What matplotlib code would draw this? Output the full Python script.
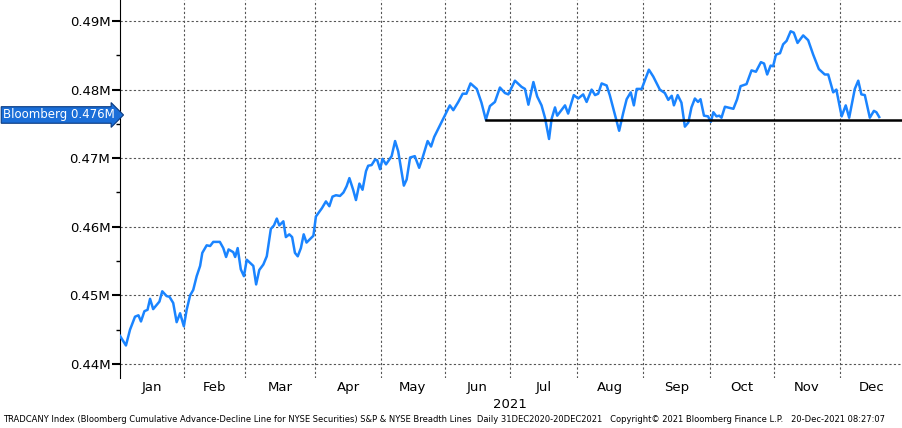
import matplotlib
matplotlib.use("Agg")
import matplotlib.pyplot as plt
from matplotlib.ticker import FuncFormatter, MultipleLocator

# trading-day index since 31 Dec 2020, values in thousands
days = [0,1.9,3.2,4.8,5.9,6.7,7.8,8.8,9.6,10.6,12.6,13.5,14.9,15.8,17.0,18.1,19.2,20.4,21.3,22.4,
        23.4,24.5,25.6,26.3,27.7,28.8,29.8,31.9,33.0,33.9,34.7,36.2,36.8,37.6,38.6,39.6,40.5,42.6,43.5,44.5,
        45.8,46.9,48.2,49.2,50.1,50.9,52.2,53.0,54.1,55.0,55.9,56.8,57.8,58.7,59.6,61.8,62.6,64.5,65.8,66.9,
        67.9,69.0,70.3,71.4,72.4,73.3,74.5,75.4,76.5,77.5,78.6,79.3,80.4,81.5,82.2,83.1,83.9,85.0,86.8,87.9,
        88.9,90.7,91.6,92.7,94.2,95.6,96.7,98.3,99.4,100.4,105.4,106.5,108.1,109.5,110.7,112.0,114.0,115.5,116.9,118.2,
        119.8,121.4,123.0,124.1,126.2,128.3,129.4,130.5,132.1,133.3,134.7,135.8,137.1,137.9,139.0,139.7,142.2,143.2,145.0,146.4,
        148.0,149.1,150.7,151.8,152.8,153.9,155.5,156.5,158.1,159.5,160.8,161.9,163.2,164.2,165.1,166.7,169.0,170.4,172.5,174.1,
        175.2,176.3,177.0,178.2,179.4,180.5,181.6,182.6,183.7,184.7,185.5,186.6,187.9,188.8,189.6,190.6,191.5,192.2,193.3,196.0,
        197.2,198.3,200.2,201.8,203.2,204.8,205.8,206.8,207.9,208.7,209.6,210.9,211.9,213.0,214.3,215.3,216.5,218.3,219.9,221.5,
        223.3,225.2,226.3,227.9,228.9,230.6,231.9,233.0,234.8,235.9,236.9,238.0,239.6,240.9,241.7,242.6]
values_k = [444.1,442.7,445.0,446.9,447.1,446.2,447.7,447.9,449.5,448.0,449.1,450.6,449.9,449.8,448.9,446.1,447.4,445.5,447.9,450.0,
        450.8,452.8,454.3,456.2,457.3,457.2,457.8,457.8,456.9,455.6,456.7,456.3,455.6,456.9,453.8,452.8,455.2,454.3,451.6,453.7,
        454.5,455.7,459.7,460.2,461.2,460.2,460.8,458.5,458.9,458.5,456.2,455.7,456.9,458.9,457.7,458.7,461.5,462.7,463.7,463.0,
        464.4,464.6,464.5,465.0,465.9,467.1,465.4,463.9,466.3,465.4,468.1,468.9,469.0,469.8,469.7,468.4,469.9,469.1,470.3,472.5,
        471.0,466.0,466.9,470.1,470.3,468.6,470.1,472.5,471.7,473.1,477.7,477.0,478.2,479.4,479.4,480.9,480.1,478.1,475.6,477.6,
        478.2,480.3,479.5,479.3,481.3,480.4,480.1,477.8,481.1,479.0,477.7,475.9,472.8,475.7,477.4,476.2,477.7,476.5,479.2,478.7,
        479.3,478.2,480.0,479.2,479.4,480.9,480.6,479.2,476.4,474.0,476.6,478.6,479.6,477.7,480.1,480.1,482.9,481.9,480.0,479.5,
        478.5,479.1,477.7,479.2,478.1,474.6,475.2,477.4,478.7,478.2,478.6,476.2,476.1,475.3,476.7,476.1,476.2,475.9,477.5,477.2,
        478.6,480.5,480.8,482.8,482.6,484.0,483.8,482.2,483.5,483.4,485.1,485.3,486.6,487.1,488.5,488.3,486.8,487.9,487.2,485.1,
        483.0,482.2,482.2,479.6,480.0,476.1,477.7,475.9,480.1,481.3,479.3,479.2,475.9,476.9,476.7,476.0]
values = [v / 1e3 for v in values_k]  # in millions

month_starts = [0, 20.4, 39.9, 62.3, 83.4, 103.8, 124.6, 146, 167, 188.5, 209, 230, 250.2]
month_labels = ["Jan","Feb","Mar","Apr","May","Jun","Jul","Aug","Sep","Oct","Nov","Dec"]
support_level = 0.4756
support_start = 116.9
last_label = "Bloomberg 0.476M"

fig = plt.figure(figsize=(9.03, 4.28), dpi=100)
ax = fig.add_axes([120/903, 50/428, 783/903, 378/428])
ax.set_xlim(0, 250.2)
ax.set_ylim(0.43796, 0.49306)

ax.plot(days, values, color="#1a84ff", lw=1.8, zorder=3)
ax.plot([support_start, 250.2], [support_level, support_level], color="black", lw=1.8, zorder=4)

for s in ["top", "right", "bottom"]:
    ax.spines[s].set_visible(False)
ax.spines["left"].set_color("black")

ax.yaxis.set_major_locator(MultipleLocator(0.01))
ax.yaxis.set_minor_locator(MultipleLocator(0.005))
ax.yaxis.set_major_formatter(FuncFormatter(lambda v, p: f"{v:.2f}M"))
ax.tick_params(axis="y", which="major", length=6, width=1.5, labelsize=9.5, pad=1, colors="black")
ax.tick_params(axis="y", which="minor", length=3, width=1)
ax.grid(axis="y", which="major", color="#555555", ls=(0, (2, 2)), lw=0.8)

ax.set_xticks(month_starts[1:-1])
ax.set_xticklabels([])
ax.tick_params(axis="x", length=0)
for x in month_starts[1:-1]:
    ax.axvline(x, color="#555555", ls=(0, (2, 2)), lw=0.8, zorder=1)
for i, lab in enumerate(month_labels):
    c = (month_starts[i] + month_starts[i + 1]) / 2
    ax.text(c, -0.025, lab, transform=ax.get_xaxis_transform(), ha="center", va="center", fontsize=9.5)
ax.text(month_starts[6], -0.07, "2021", transform=ax.get_xaxis_transform(), ha="center", va="center", fontsize=9.5)

ax.annotate(last_label, xy=(3/903, 0.4763), xycoords=("figure fraction", "data"),
            ha="left", va="center", fontsize=8.5, color="white",
            bbox=dict(boxstyle="rarrow,pad=0.15", fc="#1a6ed8", ec="#0a3a80", lw=0.8))

fig.text(3/903, 1 - 420/428,
         "TRADCANY Index (Bloomberg Cumulative Advance-Decline Line for NYSE Securities) S&P & NYSE Breadth Lines  Daily 31DEC2020-20DEC2021   Copyright\u00a9 2021 Bloomberg Finance L.P.   20-Dec-2021 08:27:07",
         fontsize=6.0, va="center", ha="left")

fig.savefig("out.png", dpi=100)
